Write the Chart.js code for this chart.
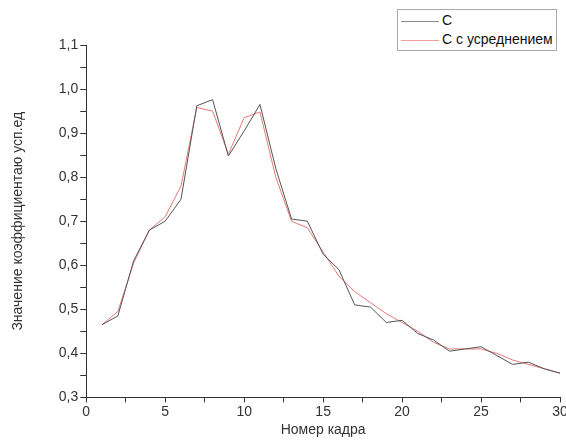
<!DOCTYPE html>
<html>
<head>
<meta charset="utf-8">
<script src="https://cdn.jsdelivr.net/npm/chart.js@4/dist/chart.umd.min.js"></script>
<style>
    html, body { margin: 0; padding: 0; background: #fff; }
    #wrap { position: relative; width: 566px; height: 441px; overflow: hidden; }
    #legend {
        position: absolute; left: 397px; top: 9px; width: 158px; height: 40px;
        border: 1px solid #aaa; background: #fff;
        font-family: "Liberation Sans", Arial, sans-serif; font-size: 14px; color: #111;
    }
    .row { position: absolute; left: 3px; height: 18px; line-height: 18px; white-space: nowrap; }
    .row span.ln { display: inline-block; width: 38px; height: 0; vertical-align: middle; margin-right: 3px; }
</style>
</head>
<body>
<div id="wrap">
    <canvas id="chart" width="566" height="441"></canvas>
    <div id="legend">
        <div class="row" style="top:1px"><span class="ln" style="border-top:1px solid #888"></span>C</div>
        <div class="row" style="top:20px"><span class="ln" style="border-top:1px solid #f0a0a0"></span>C с усреднением</div>
    </div>
</div>
<script>
var frames = [1, 2, 3, 4, 5, 6, 7, 8, 9, 10, 11, 12, 13, 14, 15, 16, 17, 18, 19, 20, 21, 22, 23, 24, 25, 26, 27, 28, 29, 30];
var seriesC = [0.465, 0.485, 0.61, 0.68, 0.70, 0.75, 0.962, 0.976, 0.848, 0.905, 0.965, 0.82, 0.705, 0.70, 0.625, 0.59, 0.51, 0.505, 0.47, 0.475, 0.445, 0.43, 0.405, 0.41, 0.415, 0.395, 0.375, 0.38, 0.365, 0.355];
var seriesAvg = [0.465, 0.495, 0.605, 0.68, 0.71, 0.78, 0.958, 0.95, 0.852, 0.935, 0.948, 0.80, 0.70, 0.685, 0.63, 0.575, 0.54, 0.515, 0.49, 0.47, 0.45, 0.425, 0.41, 0.41, 0.41, 0.40, 0.385, 0.375, 0.365, 0.355];

function toPoints(values) {
    return values.map((v, i) => ({ x: frames[i], y: v }));
}

var font = { family: '"Liberation Sans", Arial, sans-serif', size: 14 };

var ctx = document.getElementById('chart').getContext('2d');
var chart = new Chart(ctx, {
    type: 'line',
    data: {
        datasets: [{
            label: 'C',
            data: toPoints(seriesC),
            borderColor: '#555',
            borderWidth: 1,
            pointRadius: 0,
            tension: 0
        }, {
            label: 'C с усреднением',
            data: toPoints(seriesAvg),
            borderColor: '#e77a7a',
            borderWidth: 1,
            pointRadius: 0,
            tension: 0
        }]
    },
    options: {
        responsive: false,
        animation: false,
        layout: { padding: { top: 45, right: 6, left: 10, bottom: 2 } },
        plugins: {
            legend: { display: false },
            tooltip: { enabled: false }
        },
        scales: {
            x: {
                type: 'linear',
                min: 0,
                max: 30,
                // let the "30" label run off the edge like in the original
                afterFit: function(scale) { scale.paddingRight = 0; },
                grid: { drawOnChartArea: false, color: '#000', tickLength: 5, tickColor: '#333' },
                border: { color: '#333', width: 1 },
                ticks: {
                    stepSize: 2.5,
                    autoSkip: false,
                    maxRotation: 0,
                    color: '#333',
                    font: font,
                    padding: 1,
                    callback: function(value) {
                        return value % 5 === 0 ? String(value) : '';
                    }
                },
                title: { display: true, text: 'Номер кадра', color: '#333', font: font, padding: { top: 1, bottom: 0 } }
            },
            y: {
                min: 0.3,
                max: 1.1,
                grid: { drawOnChartArea: false, color: '#000', tickLength: 6, tickColor: '#333' },
                border: { color: '#333', width: 1 },
                ticks: {
                    stepSize: 0.05,
                    autoSkip: false,
                    color: '#333',
                    font: font,
                    padding: 2,
                    callback: function(value) {
                        var r = Math.round(value * 100);
                        return r % 10 === 0 ? (r / 100).toFixed(1).replace('.', ',') : '';
                    }
                },
                title: { display: true, text: 'Значение коэффициентаю усп.ед', color: '#333', font: font, padding: { top: 0, bottom: 30 } }
            }
        }
    }
});
</script>
</body>
</html>
